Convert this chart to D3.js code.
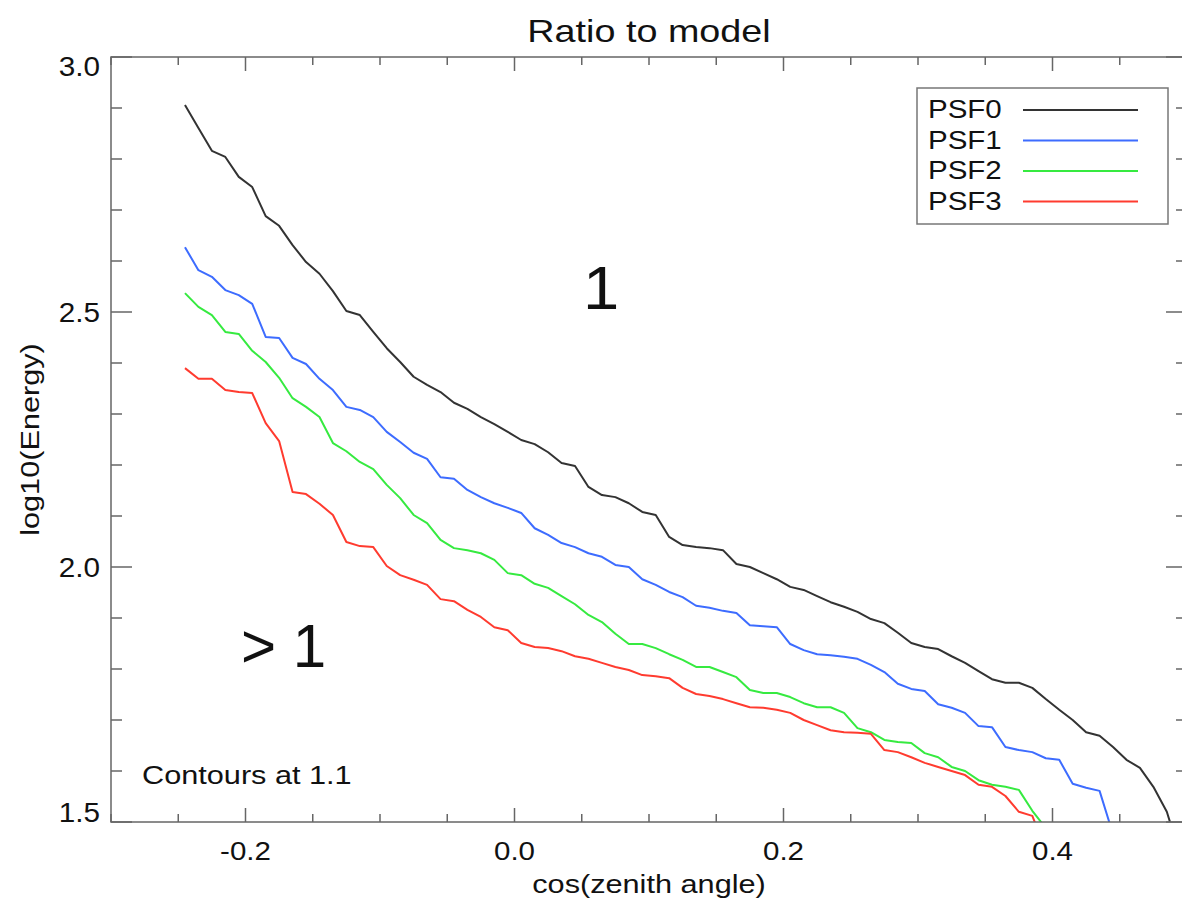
<!DOCTYPE html>
<html>
<head>
<meta charset="utf-8">
<script src="https://cdn.jsdelivr.net/npm/d3@7"></script>
<style>
  body { margin: 0; background: #fff; }
  svg { display: block; font-family: "Liberation Sans", Arial, Helvetica, sans-serif; }
</style>
</head>
<body>
<script>
// cos(zenith angle) bin centres
var cosBins = [-0.245, -0.235, -0.225, -0.215, -0.205, -0.195, -0.185, -0.175, -0.165, -0.155,
  -0.145, -0.135, -0.125, -0.115, -0.105, -0.095, -0.085, -0.075, -0.065, -0.055,
  -0.045, -0.035, -0.025, -0.015, -0.005, 0.005, 0.015, 0.025, 0.035, 0.045,
  0.055, 0.065, 0.075, 0.085, 0.095, 0.105, 0.115, 0.125, 0.135, 0.145,
  0.155, 0.165, 0.175, 0.185, 0.195, 0.205, 0.215, 0.225, 0.235, 0.245,
  0.255, 0.265, 0.275, 0.285, 0.295, 0.305, 0.315, 0.325, 0.335, 0.345,
  0.355, 0.365, 0.375, 0.385, 0.395, 0.405, 0.415, 0.425, 0.435, 0.445,
  0.455, 0.465, 0.475, 0.485, 0.495];

// contour at ratio 1.1, log10(Energy) per bin
var psf0 = [2.906, 2.861, 2.816, 2.804, 2.765, 2.745, 2.688, 2.669, 2.631, 2.598,
  2.575, 2.541, 2.502, 2.494, 2.461, 2.429, 2.402, 2.373, 2.357, 2.343,
  2.322, 2.310, 2.294, 2.280, 2.265, 2.249, 2.241, 2.225, 2.204, 2.198,
  2.157, 2.141, 2.137, 2.125, 2.108, 2.102, 2.059, 2.043, 2.039, 2.037,
  2.033, 2.006, 2.000, 1.988, 1.976, 1.961, 1.955, 1.943, 1.931, 1.922,
  1.912, 1.898, 1.890, 1.871, 1.851, 1.843, 1.839, 1.825, 1.812, 1.796,
  1.780, 1.773, 1.773, 1.763, 1.741, 1.720, 1.700, 1.676, 1.669, 1.647,
  1.622, 1.606, 1.569, 1.520, 1.435];
var psf1 = [2.627, 2.582, 2.569, 2.543, 2.533, 2.516, 2.451, 2.449, 2.410, 2.398,
  2.369, 2.347, 2.314, 2.308, 2.294, 2.265, 2.245, 2.224, 2.212, 2.176,
  2.173, 2.151, 2.137, 2.125, 2.116, 2.106, 2.076, 2.063, 2.047, 2.039,
  2.027, 2.020, 2.004, 2.000, 1.976, 1.965, 1.951, 1.941, 1.924, 1.920,
  1.914, 1.910, 1.886, 1.884, 1.882, 1.849, 1.837, 1.829, 1.827, 1.824,
  1.820, 1.808, 1.794, 1.771, 1.761, 1.757, 1.731, 1.724, 1.714, 1.688,
  1.686, 1.647, 1.641, 1.637, 1.625, 1.622, 1.575, 1.567, 1.561, 1.476];
var psf2 = [2.537, 2.510, 2.494, 2.461, 2.457, 2.424, 2.402, 2.371, 2.331, 2.314,
  2.294, 2.243, 2.227, 2.206, 2.192, 2.161, 2.135, 2.102, 2.086, 2.053,
  2.037, 2.033, 2.027, 2.014, 1.988, 1.984, 1.967, 1.959, 1.943, 1.927,
  1.906, 1.892, 1.869, 1.849, 1.849, 1.841, 1.829, 1.818, 1.804, 1.804,
  1.794, 1.784, 1.759, 1.753, 1.753, 1.745, 1.733, 1.725, 1.725, 1.714,
  1.684, 1.676, 1.661, 1.657, 1.655, 1.635, 1.627, 1.608, 1.600, 1.582,
  1.573, 1.569, 1.563, 1.522, 1.488];
var psf3 = [2.390, 2.369, 2.369, 2.347, 2.343, 2.341, 2.282, 2.247, 2.147, 2.143,
  2.124, 2.102, 2.049, 2.041, 2.039, 2.002, 1.984, 1.975, 1.965, 1.937,
  1.933, 1.916, 1.902, 1.882, 1.876, 1.851, 1.843, 1.841, 1.835, 1.825,
  1.820, 1.812, 1.804, 1.798, 1.788, 1.786, 1.782, 1.763, 1.751, 1.747,
  1.741, 1.733, 1.725, 1.724, 1.720, 1.714, 1.700, 1.690, 1.680, 1.676,
  1.675, 1.673, 1.641, 1.637, 1.627, 1.616, 1.608, 1.600, 1.592, 1.573,
  1.569, 1.551, 1.520, 1.512, 1.445];

var seriesNames = ['PSF0', 'PSF1', 'PSF2', 'PSF3'];
var seriesColors = ['#333333', '#3d6cff', '#36ea40', '#ff3b2f'];
var seriesValues = [psf0, psf1, psf2, psf3];

var xTicks = [-0.2, 0.0, 0.2, 0.4];
var yTicks = [1.5, 2.0, 2.5, 3.0];

var
  width = 1182,
  height = 900,
  plotLeft = 111, plotRight = 1187, plotTop = 57, plotBottom = 822,
  stretch = 1.18,
  axisColor = '#666',
  svg = d3.select('body').append('svg')
    .attr('width', width)
    .attr('height', height);

var x = d3.scaleLinear().domain([-0.3, 0.5]).range([plotLeft, plotRight]);
var y = d3.scaleLinear().domain([1.5, 3.0]).range([plotBottom, plotTop]);

// text helper: the picture's text is a bit wide, so stretch it horizontally
function label(px, py, str, size, anchor, sx, rot) {
  return svg.append('text')
    .attr('transform', 'translate(' + px + ',' + py + ')' + (rot ? ' rotate(' + rot + ')' : '') + ' scale(' + (sx || 1) + ',1)')
    .attr('text-anchor', anchor || 'start')
    .attr('font-size', size)
    .attr('fill', '#111')
    .text(str);
}

svg.append('clipPath').attr('id', 'plotclip')
  .append('rect')
  .attr('x', plotLeft).attr('y', plotTop)
  .attr('width', plotRight - plotLeft).attr('height', plotBottom - plotTop);

// curves
var line = d3.line()
  .x(function (d) { return x(d[0]); })
  .y(function (d) { return y(d[1]); });

seriesValues.forEach(function (vals, i) {
  var pts = vals.map(function (v, k) { return [cosBins[k], v]; });
  svg.append('path')
    .datum(pts)
    .attr('clip-path', 'url(#plotclip)')
    .attr('fill', 'none')
    .attr('stroke', seriesColors[i])
    .attr('stroke-width', 2)
    .attr('stroke-linejoin', 'round')
    .attr('d', line);
});

// frame
svg.append('rect')
  .attr('x', plotLeft).attr('y', plotTop)
  .attr('width', plotRight - plotLeft).attr('height', plotBottom - plotTop)
  .attr('fill', 'none')
  .attr('stroke', axisColor)
  .attr('stroke-width', 1.5);

// axes, IDL style: ticks pointing inward on all four sides
var xMinor = d3.range(-6, 11).map(function (k) { return k * 0.05; });
var yMinor = d3.range(15, 31).map(function (k) { return k / 10; });

function isMajor(v, majors) {
  return majors.some(function (m) { return Math.abs(m - v) < 1e-6; });
}

var tickG = svg.append('g').attr('stroke', axisColor).attr('stroke-width', 1.5);
xMinor.forEach(function (v) {
  var len = isMajor(v, xTicks) ? 14 : 8;
  tickG.append('line').attr('x1', x(v)).attr('x2', x(v)).attr('y1', plotBottom).attr('y2', plotBottom - len);
  tickG.append('line').attr('x1', x(v)).attr('x2', x(v)).attr('y1', plotTop).attr('y2', plotTop + len);
});
yMinor.forEach(function (v) {
  var len = isMajor(v, yTicks) ? 21 : 11;
  tickG.append('line').attr('y1', y(v)).attr('y2', y(v)).attr('x1', plotLeft).attr('x2', plotLeft + len);
  tickG.append('line').attr('y1', y(v)).attr('y2', y(v)).attr('x1', plotRight).attr('x2', plotRight - len);
});

// tick labels (plain hyphen minus, as in the picture)
var capH = 19;
function fmt(v) { return v.toFixed(1); }
xTicks.forEach(function (v) {
  label(x(v), 860, fmt(v), 25, 'middle', stretch);
});
yTicks.forEach(function (v) {
  var base = Math.min(plotBottom, Math.max(plotTop + capH, y(v) + capH / 2));
  label(100, base, fmt(v), 27, 'end', 1.1);
});

// titles
label((plotLeft + plotRight) / 2, 42, 'Ratio to model', 32, 'middle', stretch);
label((plotLeft + plotRight) / 2, 893, 'cos(zenith angle)', 26, 'middle', stretch);
label(39, (plotTop + plotBottom) / 2, 'log10(Energy)', 26, 'middle', stretch, -90);

// region annotations
label(601, 309, '1', 62, 'middle', 1.05);
label(241, 667, '> 1', 62, 'start', 0.97);
label(142, 784, 'Contours at 1.1', 26, 'start', stretch);

// legend
var lg = svg.append('g');
lg.append('rect')
  .attr('x', 917).attr('y', 88)
  .attr('width', 251).attr('height', 136)
  .attr('fill', '#fff')
  .attr('stroke', '#777')
  .attr('stroke-width', 1.5);
seriesNames.forEach(function (name, i) {
  var ly = 110 + i * 30.5;
  lg.append('line')
    .attr('x1', 1023).attr('x2', 1138)
    .attr('y1', ly).attr('y2', ly)
    .attr('stroke', seriesColors[i])
    .attr('stroke-width', 2);
  label(928, ly + 8, name, 25, 'start', stretch);
});
</script>
</body>
</html>
